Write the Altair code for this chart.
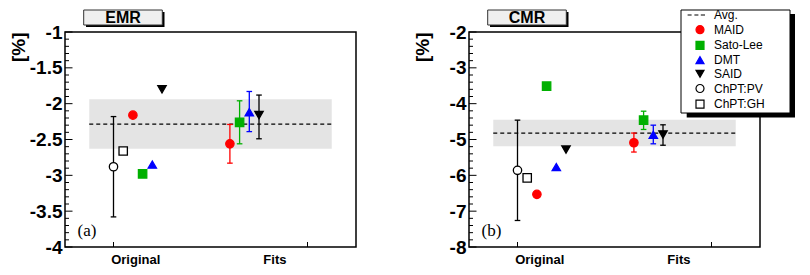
import altair as alt
import pandas as pd
import numpy as np

# ---------------- data ----------------
orig_models = ["ChPT:PV", "ChPT:GH", "MAID", "Sato-Lee", "DMT", "SAID"]
orig_x = [0.5, 0.6, 0.7, 0.8, 0.9, 1.0]
emr_orig = [-2.88, -2.66, -2.16, -2.98, -2.85, -1.80]
cmr_orig = [-5.86, -6.07, -6.53, -3.51, -5.77, -5.28]
pv_emr_err = [-3.58, -2.18]
pv_cmr_err = [-7.26, -4.46]

fit_models = ["MAID", "Sato-Lee", "DMT", "SAID"]
fit_x = [1.7, 1.8, 1.9, 2.0]
emr_fit = [-2.56, -2.26, -2.12, -2.16]
emr_fit_lo = [-2.83, -2.56, -2.39, -2.49]
emr_fit_hi = [-2.29, -1.96, -1.83, -1.88]
cmr_fit = [-5.09, -4.46, -4.87, -4.86]
cmr_fit_lo = [-5.35, -4.72, -5.12, -5.16]
cmr_fit_hi = [-4.82, -4.21, -4.60, -4.59]

emr_avg = -2.285
emr_band = [-2.63, -1.94]
cmr_avg = -4.82
cmr_band = [-5.19, -4.45]
avg_span = [0.25, 2.75]

x_tick_vals = [0.5, 2.5]
x_label_vals = [0.724, 2.159]
x_labels = ["Original", "Fits"]

emr_major = [-4, -3.5, -3, -2.5, -2, -1.5, -1]
emr_minor = [round(v, 2) for v in np.arange(-4, -0.99, 0.1) if round(v * 2, 4) != round(v * 2)]
cmr_major = [-8, -7, -6, -5, -4, -3, -2]
cmr_minor = [round(v, 2) for v in np.arange(-8, -1.99, 0.2) if abs(v - round(v)) > 1e-6]

# ---------------- styles ----------------
legend_domain = ["Avg.", "MAID", "Sato-Lee", "DMT", "SAID", "ChPT:PV", "ChPT:GH"]
dash_path = "M-3.1,0H-2.1M-1.4,0H-0.4M0.2,0H1.25"
shape_range = [dash_path, "circle", "square", "triangle-up", "triangle-down", "circle", "square"]
RED, GREEN, BLUE = "#ff0000", "#00b000", "#0000ff"
fill_range = ["transparent", RED, GREEN, BLUE, "black", "white", "white"]
stroke_range = ["black", RED, GREEN, BLUE, "black", "black", "black"]
col_map = dict(zip(legend_domain, stroke_range))

W, H = 291, 215
SANS = "Liberation Sans"


def panel(name, tag, oy, pv_err, fy, flo, fhi, avg, band, ydom, major, minor, show_legend):
    ysc = alt.Scale(domain=ydom, nice=False, zero=False)
    xsc = alt.Scale(domain=[0, 3], nice=False, zero=False)
    yax = alt.Axis(values=major, labelExpr="'' + datum.value", labelFont=SANS, labelFontSize=19,
                   labelFontWeight="bold", labelColor="black", labelPadding=3, ticks=False,
                   domain=False, grid=False, title="[%]", titleFont=SANS, titleFontSize=19,
                   titleFontWeight="bold", titleColor="black", titleAnchor="end",
                   titleX=-37, titleBaseline="bottom", titleAngle=-90)
    xax = alt.Axis(values=x_label_vals,
                   labelExpr="datum.value < 1.5 ? '%s' : '%s'" % (x_labels[0], x_labels[1]),
                   labelFont=SANS, labelFontSize=13, labelFontWeight="bold", labelColor="black",
                   labelPadding=6, ticks=False, domain=False, grid=False, title=None)

    X = lambda f: alt.X(f, type="quantitative", scale=xsc, axis=xax)
    Y = lambda f: alt.Y(f, type="quantitative", scale=ysc, axis=yax)

    band_df = pd.DataFrame({"x": [avg_span[0]], "x2": [avg_span[1]], "lo": [band[0]], "hi": [band[1]], "avg": [avg]})
    band_l = alt.Chart(band_df).mark_rect(color="#e4e4e4").encode(x=X("x"), x2="x2", y=Y("lo"), y2="hi")
    avg_l = alt.Chart(band_df).mark_rule(color="black", strokeDash=[4, 3], strokeWidth=1.2).encode(
        x=X("x"), x2="x2", y=Y("avg"))

    minor_l = alt.Chart(pd.DataFrame({"y": minor})).mark_rule(color="black", strokeWidth=1).encode(
        x=alt.value(0), x2=alt.value(4), y=Y("y"))
    major_l = alt.Chart(pd.DataFrame({"y": major})).mark_rule(color="black", strokeWidth=1).encode(
        x=alt.value(0), x2=alt.value(7.5), y=Y("y"))
    xt_l = alt.Chart(pd.DataFrame({"x": x_tick_vals})).mark_rule(color="black", strokeWidth=1).encode(
        x=X("x"), y=alt.value(H), y2=alt.value(H - 5))

    err_df = pd.DataFrame({
        "x": [orig_x[0]] + fit_x,
        "lo": [pv_err[0]] + flo,
        "hi": [pv_err[1]] + fhi,
        "col": [col_map["ChPT:PV"]] + [col_map[m] for m in fit_models],
    })
    err_l = alt.Chart(err_df).mark_rule(strokeWidth=1.3).encode(
        x=X("x"), y=Y("lo"), y2="hi", stroke=alt.Stroke("col:N", scale=None))
    cap_lo = alt.Chart(err_df).mark_rule(strokeWidth=1.3, xOffset=-2.8, x2Offset=2.8).encode(
        x=X("x"), x2="x", y=Y("lo"), stroke=alt.Stroke("col:N", scale=None))
    cap_hi = alt.Chart(err_df).mark_rule(strokeWidth=1.3, xOffset=-2.8, x2Offset=2.8).encode(
        x=X("x"), x2="x", y=Y("hi"), stroke=alt.Stroke("col:N", scale=None))

    pts_df = pd.DataFrame({"x": orig_x + fit_x, "y": oy + fy, "model": orig_models + fit_models})
    if show_legend:
        leg = alt.Legend(title=None, orient="none", legendX=225, legendY=-23, direction="vertical",
                         padding=0, symbolSize=64, symbolStrokeWidth=1.2, labelFont=SANS,
                         labelFontSize=12, labelColor="black", labelOffset=8, rowPadding=1.7,
                         symbolOffset=0)
    else:
        leg = None
    pts_l = alt.Chart(pts_df).mark_point(size=70, strokeWidth=1.3, opacity=1).encode(
        x=X("x"), y=Y("y"),
        shape=alt.Shape("model:N", scale=alt.Scale(domain=legend_domain, range=shape_range), legend=leg),
        fill=alt.Fill("model:N", scale=alt.Scale(domain=legend_domain, range=fill_range), legend=leg),
        stroke=alt.Stroke("model:N", scale=alt.Scale(domain=legend_domain, range=stroke_range), legend=leg),
    )

    one = pd.DataFrame({"a": [0]})
    tag_l = alt.Chart(one).mark_text(text=tag, font="Liberation Serif", fontSize=17, align="left",
                                     baseline="alphabetic", color="black").encode(
        x=alt.value(12.5), y=alt.value(204))
    tshadow = alt.Chart(one).mark_rect(color="black").encode(
        x=alt.value(21), x2=alt.value(99.5), y=alt.value(-20), y2=alt.value(-5))
    tbox = alt.Chart(one).mark_rect(fill="#efefef", stroke="#333333", strokeWidth=1).encode(
        x=alt.value(18.7), x2=alt.value(97.3), y=alt.value(-22), y2=alt.value(-7))
    ttext = alt.Chart(one).mark_text(text=name, font=SANS, fontSize=16, fontWeight="bold",
                                     align="center", baseline="middle", color="black").encode(
        x=alt.value(58), y=alt.value(-14.3))

    layers = [band_l, avg_l, minor_l, major_l, xt_l, err_l, cap_lo, cap_hi, pts_l, tag_l,
              tshadow, tbox, ttext]
    if show_legend:
        lshadow = alt.Chart(one).mark_rect(color="black").encode(
            x=alt.value(217.7), x2=alt.value(326), y=alt.value(-18), y2=alt.value(85.5))
        lbox = alt.Chart(one).mark_rect(fill="white", stroke="black", strokeWidth=1).encode(
            x=alt.value(212), x2=alt.value(321), y=alt.value(-22), y2=alt.value(81))
        layers += [lshadow, lbox]
    return alt.layer(*layers).properties(width=W, height=H)


left = panel("EMR", "(a)", emr_orig, pv_emr_err, emr_fit, emr_fit_lo, emr_fit_hi,
             emr_avg, emr_band, [-4, -1], emr_major, emr_minor, False)
right = panel("CMR", "(b)", cmr_orig, pv_cmr_err, cmr_fit, cmr_fit_lo, cmr_fit_hi,
              cmr_avg, cmr_band, [-8, -2], cmr_major, cmr_minor, True)

chart = alt.hconcat(left, right, spacing=55).resolve_scale(
    shape="independent", fill="independent", stroke="independent"
).properties(padding=0, background="white").configure_view(stroke="black", strokeWidth=1.5)

chart.save("out.html", embed_options={"renderer": "svg", "actions": False})
